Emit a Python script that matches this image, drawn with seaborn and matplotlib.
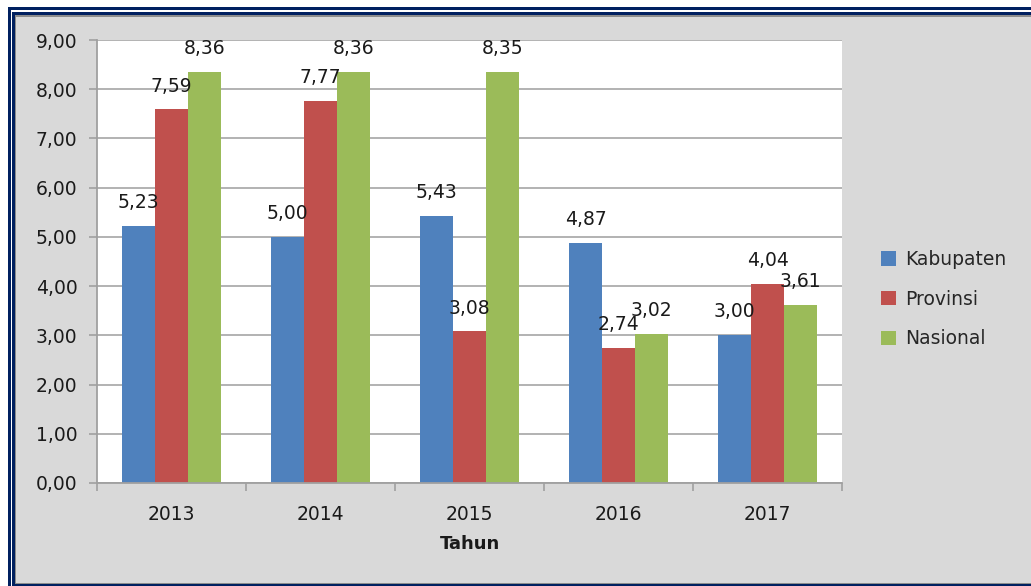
import pandas as pd
import matplotlib
matplotlib.use('Agg')
import matplotlib.pyplot as plt
from matplotlib.patches import Rectangle
from matplotlib.ticker import FuncFormatter, FixedLocator
import seaborn as sns

years = ['2013', '2014', '2015', '2016', '2017']
kabupaten = [5.23, 5.00, 5.43, 4.87, 3.00]
provinsi = [7.59, 7.77, 3.08, 2.74, 4.04]
nasional = [8.36, 8.36, 8.35, 3.02, 3.61]
series = ['Kabupaten', 'Provinsi', 'Nasional']
colors = ['#4F81BD', '#C0504D', '#9BBB59']

df = pd.DataFrame({'Tahun': years * 3,
                   'Nilai': kabupaten + provinsi + nasional,
                   'Wilayah': [s for s in series for _ in years]})

sns.set_theme(style="white")
plt.rcParams['font.family'] = ['DejaVu Sans']
bg = '#D9D9D9'
txt = '#1A1A1A'
fs = 13.5

fig = plt.figure(figsize=(10.31, 5.86), dpi=100)
fig.patch.set_facecolor('white')
# gray panel + double navy frame
W, H = 1031, 586
def box(x0, y0, x1, y1, **kw):
    fig.patches.append(Rectangle((x0 / W, 1 - y1 / H), (x1 - x0) / W, (y1 - y0) / H,
                                 transform=fig.transFigure, zorder=-10, **kw))
box(8, 7, 1040, 590, facecolor='#002060', edgecolor='none')
box(11, 10, 1040, 590, facecolor='white', edgecolor='none')
box(12, 12, 1040, 590, facecolor='#002060', edgecolor='none')
box(15, 15, 1040, 584, facecolor='#8C8C8C', edgecolor='none')
box(16, 17, 1040, 583, facecolor=bg, edgecolor='none')

ax = fig.add_axes([97 / W, 1 - 483 / H, 745 / W, 443 / H])
ax.set_zorder(1)
sns.barplot(data=df, x='Tahun', y='Nilai', hue='Wilayah', palette=colors,
            width=0.66, gap=0, saturation=1, linewidth=0, ax=ax)
ax.set_facecolor('white')
ax.set_ylim(0, 9)
ax.set_xlim(-0.5, 4.5)
ax.set_yticks(range(0, 10))
ax.yaxis.set_major_formatter(FuncFormatter(lambda v, p: f'{v:.2f}'.replace('.', ',')))
ax.grid(axis='y', color='#ADADAD', linewidth=1.3)
ax.set_axisbelow(True)
for s in ['top', 'right']:
    ax.spines[s].set_visible(False)
for s in ['left', 'bottom']:
    ax.spines[s].set_color('#A0A0A0')
    ax.spines[s].set_linewidth(1.3)
ax.tick_params(axis='y', left=True, length=6, width=1.2, color='#A0A0A0',
               labelsize=fs, labelcolor=txt, pad=8)
ax.tick_params(axis='x', bottom=False, labelsize=fs, labelcolor=txt, pad=10)
ax.xaxis.set_minor_locator(FixedLocator([-0.5, 0.5, 1.5, 2.5, 3.5, 4.5]))
ax.tick_params(axis='x', which='minor', bottom=True, length=6, width=1.2, color='#A0A0A0')

for cont in ax.containers:
    ax.bar_label(cont, labels=[f'{v:.2f}'.replace('.', ',') for v in cont.datavalues],
                 padding=10, fontsize=fs, color=txt)

ax.set_xlabel('Tahun', fontsize=13, fontweight='bold', color=txt, labelpad=8)
ax.set_ylabel('')

handles, labels = ax.get_legend_handles_labels()
ax.legend(handles, labels, loc='center left', bbox_to_anchor=(1.03, 0.415),
          frameon=False, fontsize=fs, handlelength=0.8, handleheight=0.8,
          handletextpad=0.5, labelspacing=1.1)

plt.savefig('out.png', dpi=100, facecolor=fig.get_facecolor())
